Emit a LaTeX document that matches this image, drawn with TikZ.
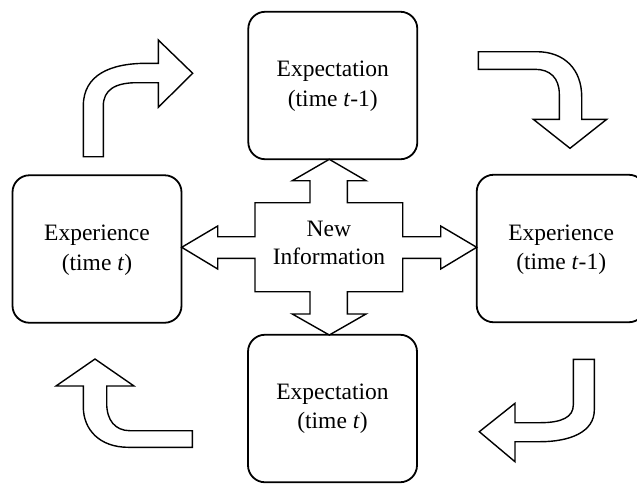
\documentclass[tikz,border=0pt]{standalone}
\usepackage{fontspec}
\setmainfont{Liberation Serif}
\begin{document}
\begin{tikzpicture}[x=1pt,y=-1pt,
  box/.style={draw, line width=1.8pt, rounded corners=17pt, minimum width=169pt,
    minimum height=147.5pt, align=center, inner sep=0pt,
    font=\fontsize{23.5}{29.5}\selectfont},
  arr/.style={draw, line width=1.4pt, line join=miter, fill=white},
  lbl/.style={align=center, inner sep=0pt, font=\fontsize{23.5}{28}\selectfont}]
\useasboundingbox (0,0) rectangle (637,483);
% boxes
\node[box, text depth=4pt] (exptop) at (332.8,85.5) {Expectation\\(time \textit{t}-1)};
\node[box, text depth=3pt] (expleft) at (97,249) {Experience\\(time \textit{t})};
\node[box, text depth=3pt] (expright) at (561.2,248.5) {Experience\\(time \textit{t}-1)};
\node[box] (expbot) at (332.5,408.5) {Expectation\\(time \textit{t})};
% central four-way arrow
\draw[arr] (329.3,159.3) -- (366,180.7) -- (347.3,180.7) -- (347.3,202.7)
  -- (402.7,202.7) -- (402.7,236.7) -- (440.7,236.7) -- (440.7,226)
  -- (476.7,247.3) -- (440.7,269) -- (440.7,258.3) -- (402.7,258.3)
  -- (402.7,291.7) -- (347.3,291.7) -- (347.3,314) -- (366,314)
  -- (329.3,335) -- (292.3,314) -- (310,314) -- (310,291.7)
  -- (255,291.7) -- (255,258.3) -- (217.7,258.3) -- (217.7,269)
  -- (181.7,247.3) -- (217.7,226) -- (217.7,236.7) -- (255,236.7)
  -- (255,202.7) -- (310,202.7) -- (310,180.7) -- (292.3,180.7) -- cycle;
\node[lbl] (info) at (328.9,243) {New\\Information};
% top-left curved arrow
\draw[arr] (83.3,156.7) -- (83.3,106) .. controls (83.3,75) and (110,63.3) .. (146.7,63.3)
  -- (158.3,63.3) -- (158.3,40) -- (192.7,73.3) -- (158.3,107.3) -- (158.3,82.7)
  -- (136.7,82.7) .. controls (115,82.7) and (103.3,90) .. (103.3,106) -- (103.3,156.7) -- cycle;
% top-right curved arrow
\draw[arr] (478.3,51.7) -- (536.7,51.7) .. controls (565,51.7) and (581.7,70) .. (581.7,96.7)
  -- (581.7,119.3) -- (606.7,119.3) -- (570,148.3) -- (533.3,119.3) -- (559.3,119.3)
  -- (559.3,94) .. controls (559.3,78) and (550,69.3) .. (535,69.3) -- (478.3,69.3) -- cycle;
% bottom-right curved arrow
\draw[arr] (573.3,359.3) -- (594.3,359.3) -- (594.3,410) .. controls (594.3,432) and (570,441.7) .. (540,441.7)
  -- (515,441.7) -- (515,461.7) -- (479.3,431.7) -- (515,403.3) -- (515,422.7)
  -- (540,422.7) .. controls (562,422.7) and (573.3,417) .. (573.3,405) -- cycle;
% bottom-left curved arrow
\draw[arr] (192.3,430.7) -- (192.3,447.3) -- (128.3,447.3) .. controls (100,447.3) and (83.3,430) .. (83.3,406.7)
  -- (83.3,386) -- (56,386) -- (95,359) -- (134,386) -- (106.7,386)
  -- (106.7,403.3) .. controls (106.7,420) and (115,430.7) .. (130,430.7) -- cycle;
\end{tikzpicture}
\end{document}
